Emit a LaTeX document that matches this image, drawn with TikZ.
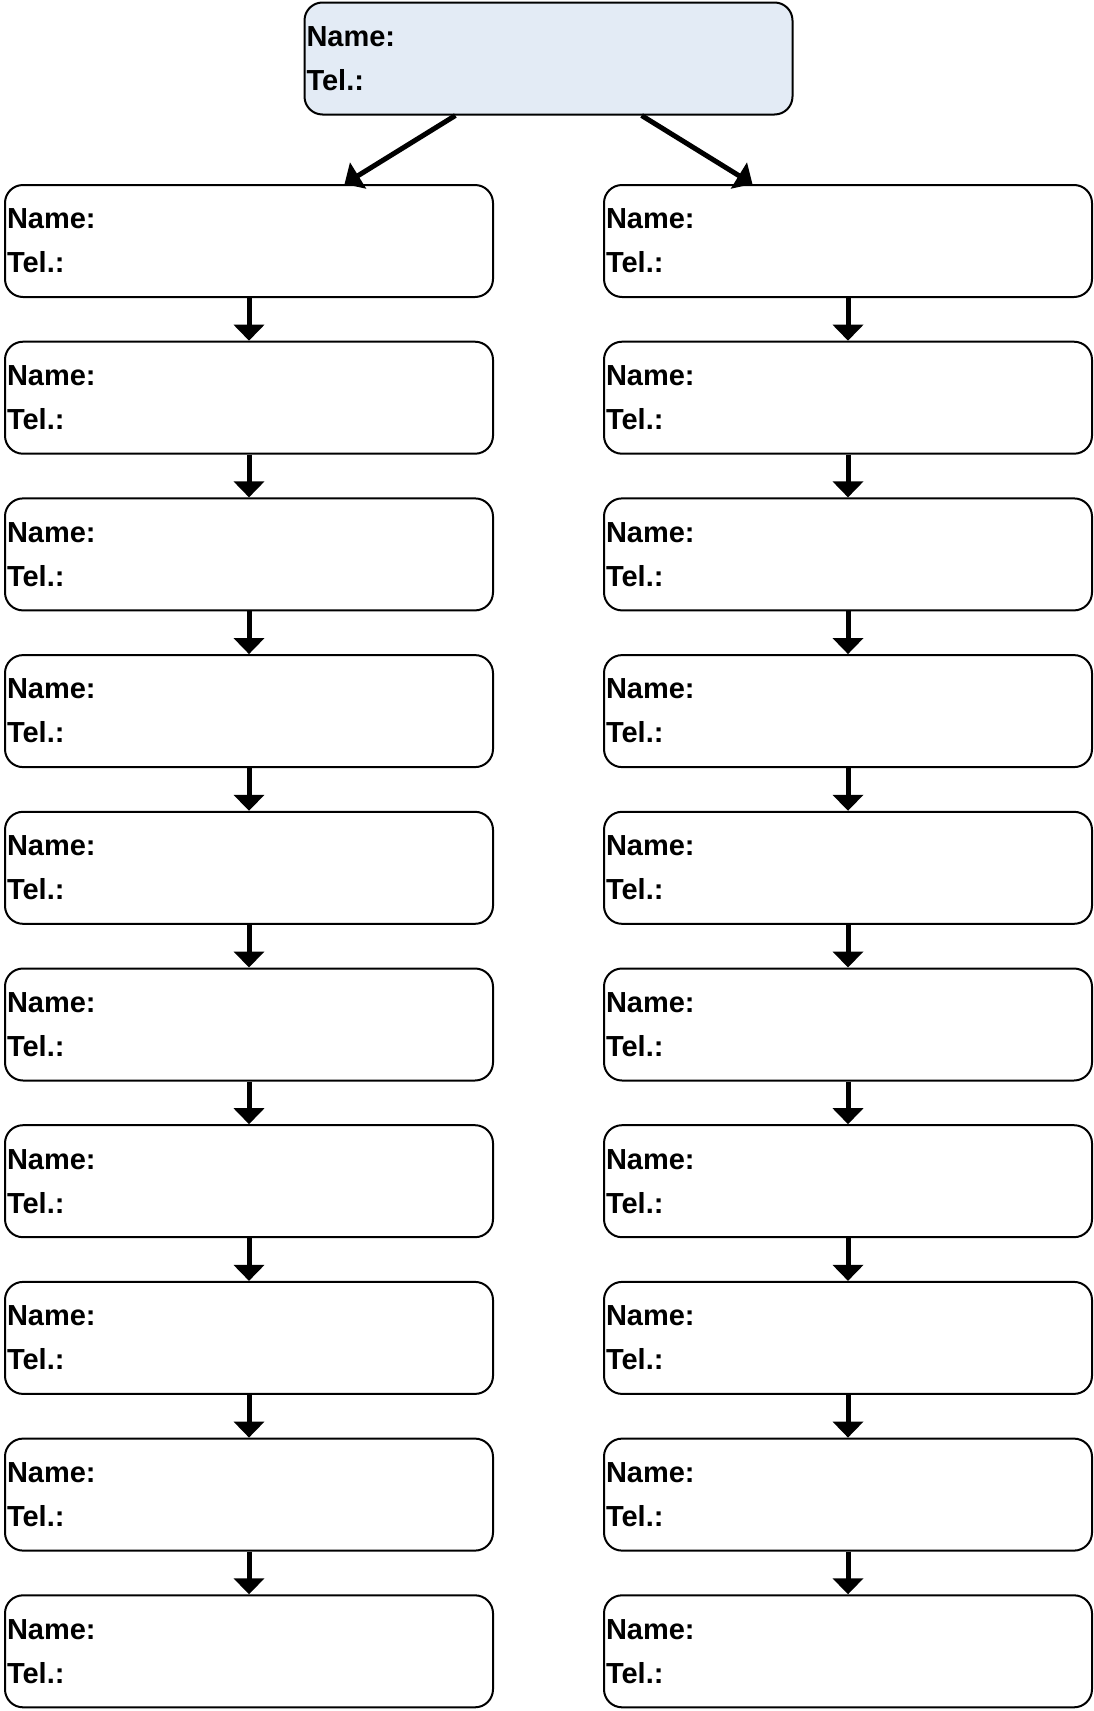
\documentclass[tikz,border=0pt]{standalone}
\usepackage{fontspec}
\setmainfont{Liberation Sans}
\usetikzlibrary{arrows.meta,positioning,calc}
\definecolor{headfill}{RGB}{227,235,245}

\begin{document}
\begin{tikzpicture}[x=1pt,y=1pt,node distance=42.7pt,
  card/.style={draw,line width=2pt,rounded corners=18pt,minimum height=112pt,text width=484pt,inner xsep=2pt,inner ysep=0pt,align=left,font=\bfseries\fontsize{29}{44}\selectfont},
  link/.style={-{Triangle[width=30pt,length=16pt]},line width=5pt}]
\useasboundingbox (0,0) rectangle (1093,-1711);
\node[card,fill=headfill] (h) at (548.5,-58.5) {Name:\\Tel.:};
\node[card] (a1) at (249,-241) {Name:\\Tel.:};
\node[card] (b1) at (848,-241) {Name:\\Tel.:};
\foreach \i [count=\j from 2] in {1,...,9} {
  \node[card,below=of a\i] (a\j) {Name:\\Tel.:};
  \node[card,below=of b\i] (b\j) {Name:\\Tel.:};
  \draw[link] (a\i)--(a\j);
  \draw[link] (b\i)--(b\j);
}
\draw[link] ($(h.south west)!.31!(h.south east)$)--($(a1.north west)!.695!(a1.north east)$);
\draw[link] ($(h.south west)!.69!(h.south east)$)--($(b1.north west)!.305!(b1.north east)$);
\end{tikzpicture}
\end{document}
